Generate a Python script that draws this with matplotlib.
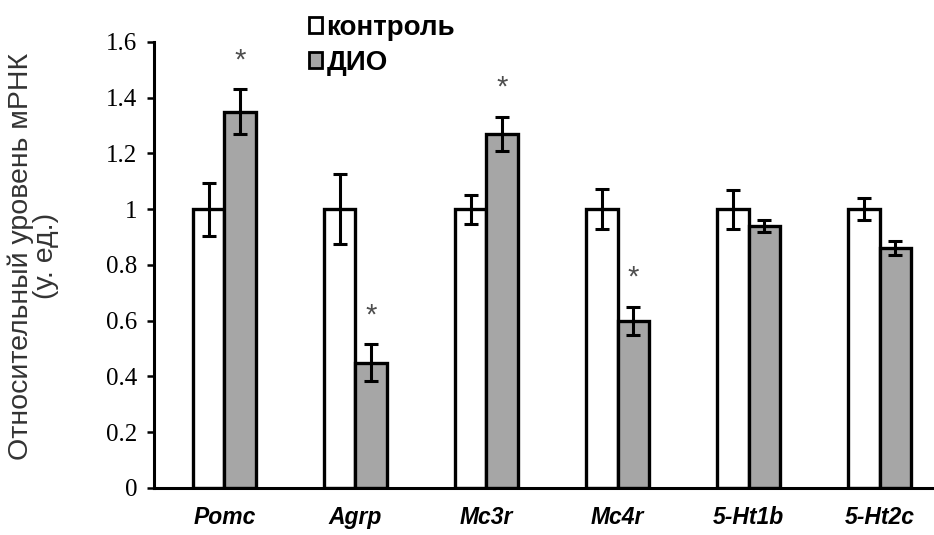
import matplotlib
matplotlib.use("Agg")
import matplotlib.pyplot as plt
import numpy as np
from matplotlib.patches import Patch

genes = ["Pomc", "Agrp", "Mc3r", "Mc4r", "5-Ht1b", "5-Ht2c"]
control = [1.0, 1.0, 1.0, 1.0, 1.0, 1.0]
control_err = [0.095, 0.125, 0.052, 0.072, 0.07, 0.04]
dio = [1.35, 0.45, 1.27, 0.60, 0.94, 0.86]
dio_err = [0.08, 0.065, 0.06, 0.05, 0.02, 0.025]
significant = [True, True, True, True, False, False]
yticks = [0, 0.2, 0.4, 0.6, 0.8, 1, 1.2, 1.4, 1.6]
ytick_labels = ["0", "0.2", "0.4", "0.6", "0.8", "1", "1.2", "1.4", "1.6"]
legend_labels = ["контроль", "ДИО"]
ylabel = "Относительный уровень мРНК\n(у. ед.)"

GRAY = "#a6a6a6"

fig = plt.figure(figsize=(9.34, 5.35), dpi=100)
ax = fig.add_axes([0.1649, 0.0879, 0.8351, 0.8336])

x = np.arange(len(genes))
w = 0.237
err_kw = dict(ecolor="black", elinewidth=2.2, capsize=5, capthick=2.2)
ax.bar(x - w / 2, control, w, yerr=control_err, color="white",
       edgecolor="black", linewidth=2.4, error_kw=err_kw, zorder=2)
ax.bar(x + w / 2, dio, w, yerr=dio_err, color=GRAY,
       edgecolor="black", linewidth=2.4, error_kw=err_kw, zorder=2)

for xi, v, e, s in zip(x, dio, dio_err, significant):
    if s:
        ax.text(xi + w / 2, v + e + 0.105, "*", ha="center", va="center",
                fontsize=21, color="#4d4d4d", family="Liberation Sans")

ax.set_xlim(-0.538, 5.416)
ax.set_ylim(0, 1.6)
ax.set_yticks(yticks)
ax.set_yticklabels(ytick_labels, family="Liberation Serif", fontsize=18)
ax.set_xticks(x)
ax.set_xticklabels(genes, family="Liberation Sans", fontsize=16.5,
                   fontweight="bold", fontstyle="italic")
ax.tick_params(axis="x", length=0, pad=13)
ax.tick_params(axis="y", length=5, width=1.8, pad=7, direction="out")

for side in ("top", "right"):
    ax.spines[side].set_visible(False)
for side in ("left", "bottom"):
    ax.spines[side].set_linewidth(2.2)
ax.spines["left"].set_zorder(3)

fig.text(0.036, 1 - 256 / 535, ylabel, rotation=90, ha="center",
         va="center", multialignment="center", fontsize=20.5,
         family="Liberation Sans", color="#333333", linespacing=0.95)

handles = [Patch(facecolor="white", edgecolor="black", linewidth=2.0),
           Patch(facecolor=GRAY, edgecolor="black", linewidth=2.0)]
fig.legend(handles, legend_labels, loc="upper left",
           bbox_to_anchor=(0.314, 1.0), frameon=False,
           prop=dict(family="Liberation Sans", weight="bold", size=20),
           handlelength=0.5, handleheight=0.5, handletextpad=0.15,
           labelspacing=0.3, borderaxespad=0.15)

fig.savefig("out.png", dpi=100)
